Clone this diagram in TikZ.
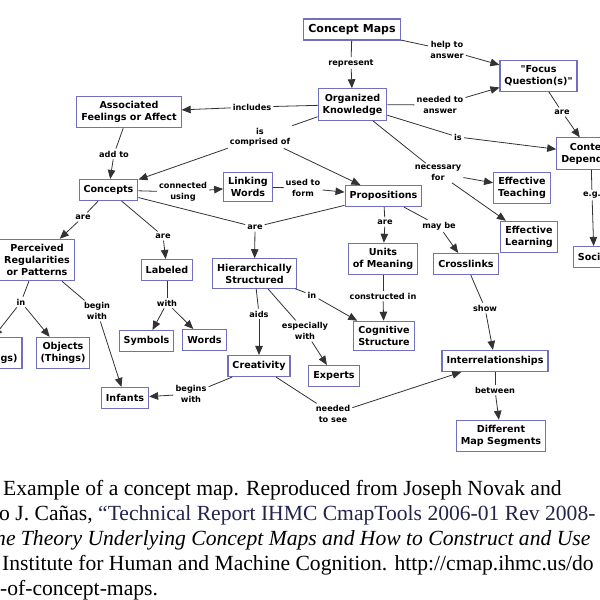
\documentclass[tikz,border=0pt]{standalone}
\usepackage{fontspec}
\setmainfont{Liberation Serif}
\newfontfamily\cmapfont{DejaVu Sans}
\usetikzlibrary{arrows.meta}
\definecolor{boxc}{RGB}{112,112,192}
\definecolor{linec}{RGB}{50,50,50}
\definecolor{navy}{RGB}{35,35,75}
\tikzset{
  cbox/.style={draw=boxc, line width=1.1pt, fill=white, align=center,
    inner xsep=4.5pt, inner ysep=5pt, minimum height=21pt,
    font=\cmapfont\bfseries\fontsize{9.6}{12}\selectfont},
  lbl/.style={align=center, inner sep=2pt,
    font=\cmapfont\bfseries\fontsize{8.2}{10.5}\selectfont},
  conn/.style={draw=linec, line width=0.8pt},
  arr/.style={conn, -{Triangle[length=9pt,width=7.5pt]}},
  captext/.style={anchor=base west, inner sep=0pt, font=\fontsize{21.6}{25}\selectfont}
}
\begin{document}
\begin{tikzpicture}[x=1pt,y=-1pt]
\useasboundingbox (0,0) rectangle (600,600);
\clip (0,0) rectangle (600,600);
% concepts
\node[cbox, font=\cmapfont\bfseries\fontsize{11}{13}\selectfont] (cm) at (352,29.5) {Concept Maps};
\node[cbox] (ok) at (352.5,104.5) {Organized\\Knowledge};
\node[cbox] (fq) at (538.5,76) {"Focus\\Question(s)"};
\node[cbox] (cd) at (591,153.5) {Context\\Dependent};
\node[cbox] (soc) at (594,257) {Social};
\node[cbox] (af) at (129,112) {Associated\\Feelings or Affect};
\node[cbox] (con) at (108.5,190) {Concepts};
\node[cbox] (lw) at (248,187) {Linking\\Words};
\node[cbox] (prop) at (383.5,196) {Propositions};
\node[cbox] (et) at (522,188) {Effective\\Teaching};
\node[cbox] (el) at (529,237) {Effective\\Learning};
\node[cbox] (prp) at (37,260) {Perceived\\Regularities\\or Patterns};
\node[cbox] (lab) at (167,270) {Labeled};
\node[cbox] (hs) at (254.5,273.5) {Hierarchically\\Structured};
\node[cbox] (um) at (383,259) {Units\\of Meaning};
\node[cbox] (cl) at (466,264) {Crosslinks};
\node[cbox] (sym) at (146.5,341) {Symbols};
\node[cbox] (wor) at (204.5,340) {Words};
\node[cbox] (cog) at (384,336) {Cognitive\\Structure};
\node[cbox] (exp) at (334,376) {Experts};
\node[cbox] (cre) at (259,366) {Creativity};
\node[cbox] (int) at (495,361) {Interrelationships};
\node[cbox] (inf) at (125,398) {Infants};
\node[cbox] (dms) at (501,436) {Different\\Map Segments};
\node[cbox] (obj) at (63,353) {Objects\\(Things)};
\node[cbox] (ev) at (-19,353) {Events\\(Happenings)};
% linking phrases
\node[lbl] (lrep) at (351,63) {represent};
\node[lbl] (lhelp) at (447,50) {help to\\answer};
\node[lbl] (lneed) at (440,105) {needed to\\answer};
\node[lbl] (lareA) at (562,112) {are};
\node[lbl] (lis) at (458,137) {is};
\node[lbl] (lnec) at (438,173) {necessary\\for};
\node[lbl] (linc) at (252,107) {includes};
\node[lbl] (lcomp) at (260,137) {is\\comprised of};
\node[lbl] (ladd) at (114,154) {add to};
\node[lbl] (lconn) at (183,192) {connected\\using};
\node[lbl] (lused) at (303,188) {used to\\form};
\node[lbl] (lareB) at (255,227) {are};
\node[lbl] (lareC) at (83,217) {are};
\node[lbl] (lareD) at (163,236) {are};
\node[lbl] (lareE) at (385,222) {are};
\node[lbl] (lmay) at (439,226) {may be};
\node[lbl] (lcons) at (383,296) {constructed in};
\node[lbl] (linA) at (21,302) {in};
\node[lbl] (lbeg) at (97,311) {begin\\with};
\node[lbl] (lwith) at (167,303) {with};
\node[lbl] (laids) at (259,314) {aids};
\node[lbl] (lesp) at (305,331) {especially\\with};
\node[lbl] (linB) at (312,295) {in};
\node[lbl] (lshow) at (485,308) {show};
\node[lbl] (lbetw) at (495,390) {between};
\node[lbl] (lbegs) at (191,394) {begins\\with};
\node[lbl] (lnts) at (333,414) {needed\\to see};
\node[lbl] (leg) at (592,195) {e.g.};
% connectors
\draw[conn] (cm) -- (lrep); \draw[arr] (lrep) -- (ok);
\draw[conn] (cm) -- (lhelp); \draw[arr] (lhelp) -- (fq);
\draw[conn] (ok) -- (lneed); \draw[arr] (lneed) -- (fq);
\draw[conn] (fq) -- (lareA); \draw[arr] (lareA) -- (cd);
\draw[conn] (ok) -- (lis); \draw[arr] (lis) -- (cd);
\draw[conn] (ok) -- (lnec); \draw[arr] (lnec) -- (et); \draw[arr] (lnec) -- (el);
\draw[conn] (ok) -- (linc); \draw[arr] (linc) -- (af);
\draw[conn] (ok) -- (lcomp); \draw[arr] (lcomp) -- (con); \draw[arr] (lcomp) -- (prop);
\draw[conn] (af) -- (ladd); \draw[arr] (ladd) -- (con);
\draw[conn] (con) -- (lconn); \draw[arr] (lconn) -- (lw);
\draw[conn] (lw) -- (lused); \draw[arr] (lused) -- (prop);
\draw[conn] (con) -- (lareB); \draw[conn] (prop) -- (lareB); \draw[arr] (lareB) -- (hs);
\draw[conn] (con) -- (lareC); \draw[arr] (lareC) -- (prp);
\draw[conn] (con) -- (lareD); \draw[arr] (lareD) -- (lab);
\draw[conn] (prop) -- (lareE); \draw[arr] (lareE) -- (um);
\draw[conn] (prop) -- (lmay); \draw[arr] (lmay) -- (cl);
\draw[conn] (um) -- (lcons); \draw[arr] (lcons) -- (cog);
\draw[conn] (prp) -- (linA); \draw[arr] (linA) -- (ev); \draw[arr] (linA) -- (obj);
\draw[conn] (prp) -- (lbeg); \draw[arr] (lbeg) -- (inf);
\draw[conn] (lab) -- (lwith); \draw[arr] (lwith) -- (sym); \draw[arr] (lwith) -- (wor);
\draw[conn] (hs) -- (laids); \draw[arr] (laids) -- (cre);
\draw[conn] (hs) -- (lesp); \draw[arr] (lesp) -- (exp);
\draw[conn] (hs) -- (linB); \draw[arr] (linB) -- (cog);
\draw[conn] (cl) -- (lshow); \draw[arr] (lshow) -- (int);
\draw[conn] (int) -- (lbetw); \draw[arr] (lbetw) -- (dms);
\draw[conn] (cre) -- (lbegs); \draw[arr] (lbegs) -- (inf);
\draw[conn] (cre) -- (lnts); \draw[arr] (lnts) -- (int);
\draw[conn] (cd) -- (leg); \draw[arr] (leg) -- (soc);
% caption
\node[captext] (c1) at (3,495) {Example of a concept map. Reproduced from Joseph Novak and};
\node[captext] (c2) at (-1,520) {o J. Cañas, \textcolor{navy}{“Technical Report IHMC CmapTools 2006-01 Rev 2008-}};
\node[captext] (c3) at (-5,545) {\itshape he Theory Underlying Concept Maps and How to Construct and Use};
\node[captext] (c4) at (2,570) {Institute for Human and Machine Cognition. http://cmap.ihmc.us/do};
\node[captext] (c5) at (0,595) {-of-concept-maps.};
\end{tikzpicture}
\end{document}
